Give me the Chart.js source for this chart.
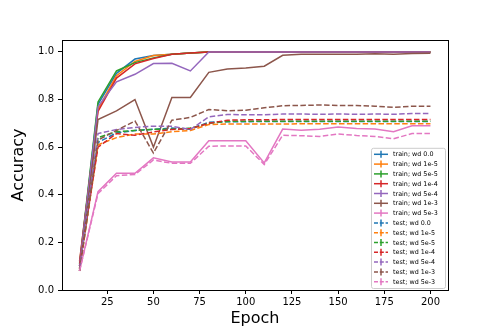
<!DOCTYPE html>
<html>
<head>
<meta charset="utf-8">
<script src="https://cdn.jsdelivr.net/npm/chart.js@4.4.0/dist/chart.umd.min.js"></script>
<style>
    html, body { margin: 0; padding: 0; background: #fff; }
    #wrap { width: 498px; height: 332px; }
</style>
</head>
<body>
<div id="wrap"><canvas id="accChart" width="498" height="332"></canvas></div>
<script>
// Accuracy vs epoch for different weight decay values
const epochs = [10, 20, 30, 40, 50, 60, 70, 80, 90, 100, 110, 120, 130, 140, 150, 160, 170, 180, 190, 200];
const xTicks = [25, 50, 75, 100, 125, 150, 175, 200];
const yTicks = [0.0, 0.2, 0.4, 0.6, 0.8, 1.0];
const wdNames = ['0.0', '1e-5', '5e-5', '1e-4', '5e-4', '1e-3', '5e-3'];

// train accuracy
const trainWd0    = [0.10, 0.78, 0.91, 0.97, 0.985, 0.99, 0.995, 1.0, 1.0, 1.0, 1.0, 1.0, 1.0, 1.0, 1.0, 1.0, 1.0, 1.0, 1.0, 1.0];
const trainWd1e5  = [0.09, 0.76, 0.90, 0.96, 0.985, 0.99, 0.995, 1.0, 1.0, 1.0, 1.0, 1.0, 1.0, 1.0, 1.0, 1.0, 1.0, 1.0, 1.0, 1.0];
const trainWd5e5  = [0.11, 0.79, 0.92, 0.955, 0.975, 0.99, 0.995, 1.0, 1.0, 1.0, 1.0, 1.0, 1.0, 1.0, 1.0, 1.0, 1.0, 1.0, 1.0, 1.0];
const trainWd1e4  = [0.12, 0.75, 0.89, 0.95, 0.972, 0.99, 0.995, 1.0, 1.0, 1.0, 1.0, 1.0, 1.0, 1.0, 1.0, 1.0, 1.0, 1.0, 1.0, 1.0];
const trainWd5e4  = [0.10, 0.77, 0.874, 0.906, 0.951, 0.952, 0.92, 1.0, 1.0, 1.0, 1.0, 1.0, 1.0, 1.0, 1.0, 1.0, 1.0, 1.0, 1.0, 1.0];
const trainWd1e3  = [0.08, 0.716, 0.752, 0.80, 0.60, 0.809, 0.809, 0.914, 0.928, 0.932, 0.94, 0.986, 0.99, 0.99, 0.99, 0.99, 0.992, 0.99, 0.993, 0.994];
const trainWd5e3  = [0.08, 0.413, 0.49, 0.49, 0.555, 0.538, 0.538, 0.627, 0.627, 0.627, 0.534, 0.676, 0.671, 0.675, 0.685, 0.678, 0.676, 0.665, 0.69, 0.69];

// test accuracy
const testWd0     = [0.08, 0.62, 0.66, 0.67, 0.675, 0.68, 0.675, 0.705, 0.707, 0.707, 0.708, 0.708, 0.708, 0.708, 0.708, 0.708, 0.708, 0.708, 0.708, 0.708];
const testWd1e5   = [0.08, 0.61, 0.64, 0.655, 0.655, 0.665, 0.67, 0.695, 0.697, 0.697, 0.697, 0.697, 0.698, 0.698, 0.698, 0.698, 0.698, 0.698, 0.698, 0.698];
const testWd5e5   = [0.09, 0.64, 0.665, 0.67, 0.675, 0.675, 0.68, 0.70, 0.708, 0.709, 0.709, 0.709, 0.709, 0.709, 0.709, 0.709, 0.709, 0.709, 0.709, 0.709];
const testWd1e4   = [0.10, 0.60, 0.657, 0.65, 0.664, 0.674, 0.678, 0.70, 0.713, 0.715, 0.715, 0.716, 0.716, 0.716, 0.716, 0.716, 0.716, 0.716, 0.716, 0.716];
const testWd5e4   = [0.09, 0.657, 0.674, 0.683, 0.688, 0.688, 0.674, 0.727, 0.737, 0.736, 0.736, 0.739, 0.739, 0.738, 0.739, 0.738, 0.739, 0.738, 0.741, 0.741];
const testWd1e3   = [0.08, 0.63, 0.67, 0.71, 0.575, 0.713, 0.725, 0.758, 0.753, 0.755, 0.765, 0.774, 0.775, 0.777, 0.775, 0.775, 0.772, 0.767, 0.772, 0.772];
const testWd5e3   = [0.08, 0.405, 0.48, 0.485, 0.546, 0.532, 0.532, 0.604, 0.605, 0.605, 0.527, 0.65, 0.648, 0.645, 0.655, 0.649, 0.645, 0.635, 0.657, 0.657];

const palette = ['#1f77b4', '#ff7f0e', '#2ca02c', '#d62728', '#9467bd', '#8c564b', '#e377c2'];
const trainSeries = [trainWd0, trainWd1e5, trainWd5e5, trainWd1e4, trainWd5e4, trainWd1e3, trainWd5e3];
const testSeries = [testWd0, testWd1e5, testWd5e5, testWd1e4, testWd5e4, testWd1e3, testWd5e3];

function makeDataset(label, values, color, dashed, idx) {
    return {
        label: label,
        data: epochs.map((e, i) => ({ x: e, y: values[i] })),
        borderColor: color,
        backgroundColor: color,
        borderWidth: 1.5,
        borderDash: dashed ? [5.5, 2.4] : [],
        pointRadius: 0,
        tension: 0,
        fill: false,
        order: 100 - idx // later series on top, like matplotlib
    };
}

const datasets = [];
trainSeries.forEach((vals, i) => {
    datasets.push(makeDataset('train; wd ' + wdNames[i], vals, palette[i], false, datasets.length));
});
testSeries.forEach((vals, i) => {
    datasets.push(makeDataset('test; wd ' + wdNames[i], vals, palette[i], true, datasets.length));
});

// frame around the plot area
const framePlugin = {
    id: 'frame',
    afterDatasetsDraw(chart) {
        const { ctx, chartArea: a } = chart;
        ctx.save();
        ctx.strokeStyle = '#000';
        ctx.lineWidth = 1;
        ctx.strokeRect(Math.round(a.left) + 0.5, Math.round(a.top) + 0.5,
            Math.round(a.right - a.left), Math.round(a.bottom - a.top));
        ctx.restore();
    }
};

// matplotlib-like legend in the lower right corner
const legendPlugin = {
    id: 'cornerLegend',
    afterDraw(chart) {
        const { ctx, chartArea: a } = chart;
        const items = chart.data.datasets;
        const rowH = 9.8;
        const boxW = 74;
        const boxH = items.length * rowH + 3;
        const x0 = a.right - 3 - boxW;
        const y0 = a.bottom - 2 - boxH;

        ctx.save();
        ctx.fillStyle = 'rgba(255,255,255,0.8)';
        ctx.strokeStyle = '#cccccc';
        ctx.lineWidth = 1;
        ctx.beginPath();
        ctx.roundRect(x0 + 0.5, y0 + 0.5, boxW, boxH, 2);
        ctx.fill();
        ctx.stroke();

        ctx.font = '6.4px "DejaVu Sans"';
        ctx.textBaseline = 'middle';
        items.forEach((ds, i) => {
            const cy = y0 + 6.5 + i * rowH;
            ctx.strokeStyle = ds.borderColor;
            ctx.lineWidth = 1.5;
            ctx.setLineDash(ds.borderDash.length ? [4, 1.8] : []);
            ctx.beginPath();
            ctx.moveTo(x0 + 3, cy);
            ctx.lineTo(x0 + 17, cy);
            ctx.stroke();
            ctx.setLineDash([]);
            ctx.beginPath();
            ctx.moveTo(x0 + 10, cy - 3.5);
            ctx.lineTo(x0 + 10, cy + 3.5);
            ctx.stroke();
            ctx.fillStyle = '#000';
            ctx.fillText(ds.label, x0 + 22, cy + 0.5);
        });
        ctx.restore();
    }
};

const ctx = document.getElementById('accChart').getContext('2d');
new Chart(ctx, {
    type: 'line',
    data: { datasets: datasets },
    options: {
        responsive: false,
        animation: false,
        events: [],
        layout: { padding: { top: 40, right: 50, left: 0, bottom: 0 } },
        plugins: {
            legend: { display: false },
            tooltip: { enabled: false }
        },
        scales: {
            x: {
                type: 'linear',
                min: 0.5,
                max: 209.5,
                afterBuildTicks: (scale) => { scale.ticks = xTicks.map(v => ({ value: v })); },
                afterFit: (scale) => { scale.height = 42; },
                grid: { drawOnChartArea: false, drawTicks: true, tickLength: 4, tickColor: '#000' },
                border: { display: true, color: '#000', width: 1 },
                ticks: {
                    color: '#000',
                    font: { family: 'DejaVu Sans', size: 10 },
                    padding: 2,
                    maxRotation: 0
                },
                title: {
                    display: true,
                    text: 'Epoch',
                    color: '#000',
                    font: { family: 'DejaVu Sans', size: 16 },
                    padding: { top: 0, bottom: 4 }
                }
            },
            y: {
                min: 0,
                max: 1.05,
                afterBuildTicks: (scale) => { scale.ticks = yTicks.map(v => ({ value: v })); },
                afterFit: (scale) => { scale.width = 62; },
                grid: { drawOnChartArea: false, drawTicks: true, tickLength: 4, tickColor: '#000' },
                border: { display: true, color: '#000', width: 1 },
                ticks: {
                    color: '#000',
                    font: { family: 'DejaVu Sans', size: 10 },
                    padding: 4,
                    callback: (v) => v.toFixed(1)
                },
                title: {
                    display: true,
                    text: 'Accuracy',
                    color: '#000',
                    font: { family: 'DejaVu Sans', size: 16 },
                    padding: { top: 9, bottom: 0 }
                }
            }
        }
    },
    plugins: [framePlugin, legendPlugin]
});
</script>
</body>
</html>
